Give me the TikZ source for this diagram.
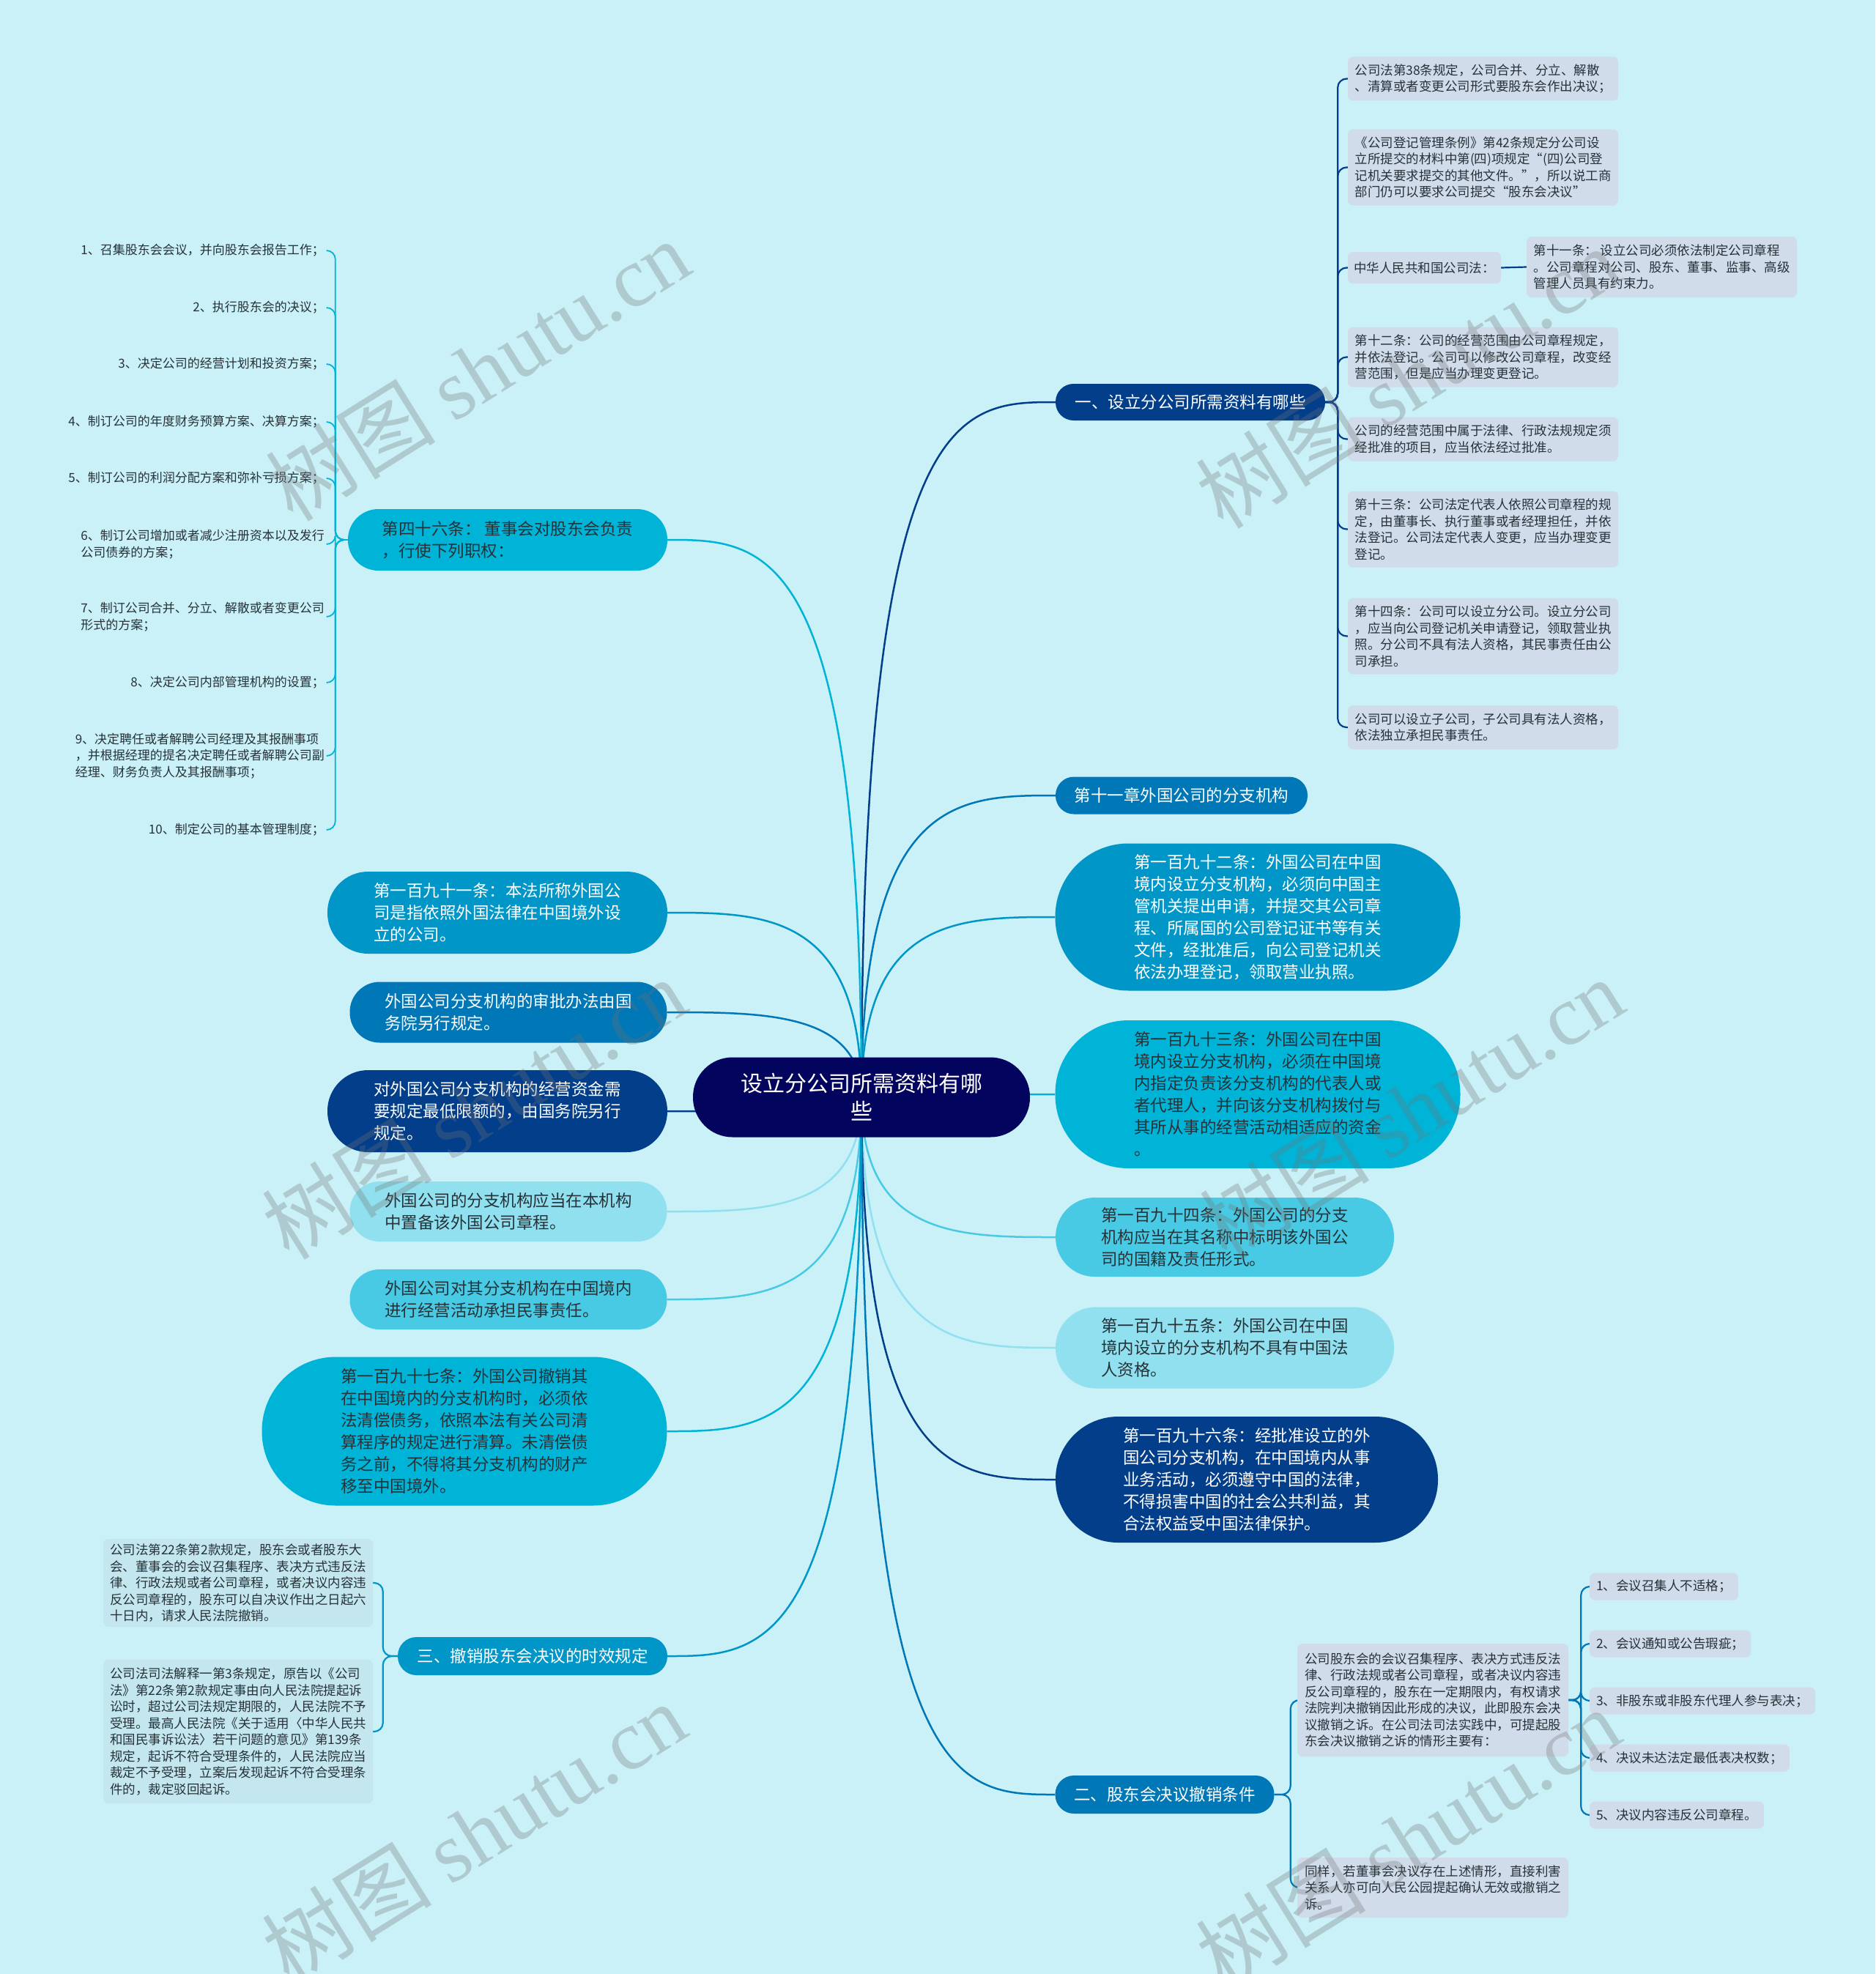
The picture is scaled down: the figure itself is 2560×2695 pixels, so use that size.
\documentclass[tikz,border=0pt]{standalone}
\usepackage{fontspec}
\setmainfont{Noto Sans CJK SC}
\newfontfamily\wmserif{Liberation Serif}
\usetikzlibrary{calc}
\pgfdeclarelayer{back}
\pgfsetlayers{back,main}
\definecolor{bg}{HTML}{CAF0F8}
\definecolor{cA}{HTML}{03045E}
\definecolor{cB}{HTML}{023E8A}
\definecolor{cC}{HTML}{0077B6}
\definecolor{cD}{HTML}{0096C7}
\definecolor{cE}{HTML}{00B4D8}
\definecolor{cF}{HTML}{48CAE4}
\definecolor{cG}{HTML}{90E0EF}
\definecolor{leafbg}{HTML}{D0DCEA}
\definecolor{leafbgb}{HTML}{C3E6EF}
\definecolor{darktxt}{HTML}{263238}
\tikzset{
  topic/.style={rectangle, inner sep=0pt, align=left, font=\fontsize{22.5}{30}\selectfont},
  leafbox/.style={rectangle, rounded corners=7pt, fill=leafbg, inner sep=0pt, align=left, text=darktxt, font=\fontsize{17.5}{22.5}\selectfont},
  leaftext/.style={inner sep=3pt, align=left, text=darktxt, font=\fontsize{17}{22.5}\selectfont},
  conn/.style={line width=2.5pt},
  hook/.style={line width=2.2pt, rounded corners=12pt},
  wm/.style={rotate=32, text=black!55, text opacity=0.3, font=\fontsize{116}{116}\selectfont},
}
\newcommand\mmcurve[3]{\draw[conn,#3] (#1) .. controls (#1 |- #2) and ($(#1 |- #2)!0.5!(#2)$) .. (#2);}
\begin{document}
\begin{tikzpicture}[x=1pt,y=-1pt]
\begin{pgfonlayer}{back}
\fill[bg] (0,0) rectangle (2560,2695);
\end{pgfonlayer}
\useasboundingbox (0,0) rectangle (2560,2695);

% center
\node[rectangle, fill=cA, text=white, minimum width=460pt, minimum height=109pt, rounded corners=54pt, inner sep=0pt, align=center, font=\fontsize{30}{38}\selectfont] (c) at (1176,1498) {设立分公司所需资料有哪\\些};

% right main topics
\node[topic, fill=cB, text=white, minimum width=368pt, minimum height=50pt, rounded corners=24.5pt] (n1) at (1625,549) {一、设立分公司所需资料有哪些};
\node[topic, fill=cC, text=white, minimum width=344pt, minimum height=51pt, rounded corners=25pt] (n2) at (1613,1086) {第十一章外国公司的分支机构};
\node[topic, fill=cD, text=white, minimum width=553pt, minimum height=201pt, rounded corners=100pt] (n3) at (1717,1252) {第一百九十二条：外国公司在中国\\境内设立分支机构，必须向中国主\\管机关提出申请，并提交其公司章\\程、所属国的公司登记证书等有关\\文件，经批准后，向公司登记机关\\依法办理登记，领取营业执照。};
\node[topic, fill=cE, text=darktxt, minimum width=553pt, minimum height=202pt, rounded corners=100pt] (n4) at (1717,1494) {第一百九十三条：外国公司在中国\\境内设立分支机构，必须在中国境\\内指定负责该分支机构的代表人或\\者代理人，并向该分支机构拨付与\\其所从事的经营活动相适应的资金\\。};
\node[topic, fill=cF, text=darktxt, minimum width=462pt, minimum height=108pt, rounded corners=53.5pt] (n5) at (1672,1689) {第一百九十四条：外国公司的分支\\机构应当在其名称中标明该外国公\\司的国籍及责任形式。};
\node[topic, fill=cG, text=darktxt, minimum width=462pt, minimum height=111pt, rounded corners=55pt] (n6) at (1672,1840) {第一百九十五条：外国公司在中国\\境内设立的分支机构不具有中国法\\人资格。};
\node[topic, fill=cB, text=white, minimum width=522pt, minimum height=172pt, rounded corners=85.5pt] (n7) at (1702,2020) {第一百九十六条：经批准设立的外\\国公司分支机构，在中国境内从事\\业务活动，必须遵守中国的法律，\\不得损害中国的社会公共利益，其\\合法权益受中国法律保护。};
\node[topic, fill=cC, text=white, minimum width=299pt, minimum height=52pt, rounded corners=25.5pt] (n8) at (1590,2450) {二、股东会决议撤销条件};

% left main topics
\node[topic, fill=cE, text=darktxt, minimum width=436pt, minimum height=84pt, rounded corners=41.5pt] (m1) at (693,737) {第四十六条： 董事会对股东会负责\\，行使下列职权：};
\node[topic, fill=cD, text=white, minimum width=464pt, minimum height=112pt, rounded corners=55.5pt] (m2) at (679,1246) {第一百九十一条：本法所称外国公\\司是指依照外国法律在中国境外设\\立的公司。};
\node[topic, fill=cC, text=white, minimum width=433pt, minimum height=83pt, rounded corners=41pt] (m3) at (694,1382) {外国公司分支机构的审批办法由国\\务院另行规定。};
\node[topic, fill=cB, text=white, minimum width=464pt, minimum height=112pt, rounded corners=55.5pt] (m4) at (679,1517) {对外国公司分支机构的经营资金需\\要规定最低限额的，由国务院另行\\规定。};
\node[topic, fill=cG, text=darktxt, minimum width=433pt, minimum height=82pt, rounded corners=40.5pt] (m5) at (694,1654) {外国公司的分支机构应当在本机构\\中置备该外国公司章程。};
\node[topic, fill=cF, text=darktxt, minimum width=433pt, minimum height=82pt, rounded corners=40.5pt] (m6) at (694,1774) {外国公司对其分支机构在中国境内\\进行经营活动承担民事责任。};
\node[topic, fill=cE, text=darktxt, minimum width=553pt, minimum height=203pt, rounded corners=101pt] (m7) at (634,1954) {第一百九十七条：外国公司撤销其\\在中国境内的分支机构时，必须依\\法清偿债务，依照本法有关公司清\\算程序的规定进行清算。未清偿债\\务之前，不得将其分支机构的财产\\移至中国境外。};
\node[topic, fill=cD, text=white, minimum width=368pt, minimum height=52pt, rounded corners=25.5pt] (m8) at (727,2261) {三、撤销股东会决议的时效规定};

% leaves of n1
\node[leafbox, minimum width=369pt, minimum height=60pt] (r1) at (2024.5,107.5) {公司法第38条规定，公司合并、分立、解散\\、清算或者变更公司形式要股东会作出决议；};
\node[leafbox, minimum width=369pt, minimum height=104pt] (r2) at (2024.5,228.5) {《公司登记管理条例》第42条规定分公司设\\立所提交的材料中第(四)项规定“(四)公司登\\记机关要求提交的其他文件。”，所以说工商\\部门仍可以要求公司提交“股东会决议”};
\node[leafbox, minimum width=209pt, minimum height=43pt] (r3) at (1944.5,365.5) {中华人民共和国公司法：};
\node[leafbox, minimum width=369pt, minimum height=83pt] (r3a) at (2268.5,364.5) {第十一条： 设立公司必须依法制定公司章程\\。公司章程对公司、股东、董事、监事、高级\\管理人员具有约束力。};
\node[leafbox, minimum width=369pt, minimum height=82pt] (r4) at (2024.5,487.5) {第十二条：公司的经营范围由公司章程规定，\\并依法登记。公司可以修改公司章程，改变经\\营范围，但是应当办理变更登记。};
\node[leafbox, minimum width=369pt, minimum height=60pt] (r5) at (2024.5,599.5) {公司的经营范围中属于法律、行政法规规定须\\经批准的项目，应当依法经过批准。};
\node[leafbox, minimum width=369pt, minimum height=104pt] (r6) at (2024.5,722.5) {第十三条：公司法定代表人依照公司章程的规\\定，由董事长、执行董事或者经理担任，并依\\法登记。公司法定代表人变更，应当办理变更\\登记。};
\node[leafbox, minimum width=369pt, minimum height=104pt] (r7) at (2024.5,868.5) {第十四条：公司可以设立分公司。设立分公司\\，应当向公司登记机关申请登记，领取营业执\\照。分公司不具有法人资格，其民事责任由公\\司承担。};
\node[leafbox, minimum width=369pt, minimum height=60pt] (r8) at (2024.5,993) {公司可以设立子公司，子公司具有法人资格，\\依法独立承担民事责任。};

% leaves of m1
\node[leaftext, anchor=east] (l1) at (446,342) {1、召集股东会会议，并向股东会报告工作；};
\node[leaftext, anchor=east] (l2) at (446,420) {2、执行股东会的决议；};
\node[leaftext, anchor=east] (l3) at (446,497) {3、决定公司的经营计划和投资方案；};
\node[leaftext, anchor=east] (l4) at (446,576) {4、制订公司的年度财务预算方案、决算方案；};
\node[leaftext, anchor=east] (l5) at (446,653) {5、制订公司的利润分配方案和弥补亏损方案；};
\node[leaftext, anchor=east] (l6) at (446,743) {6、制订公司增加或者减少注册资本以及发行\\公司债券的方案；};
\node[leaftext, anchor=east] (l7) at (446,842) {7、制订公司合并、分立、解散或者变更公司\\形式的方案；};
\node[leaftext, anchor=east] (l8) at (446,932) {8、决定公司内部管理机构的设置；};
\node[leaftext, anchor=east] (l9) at (446,1032) {9、决定聘任或者解聘公司经理及其报酬事项\\，并根据经理的提名决定聘任或者解聘公司副\\经理、财务负责人及其报酬事项；};
\node[leaftext, anchor=east] (l10) at (446,1133) {10、制定公司的基本管理制度；};

% leaves of m8
\node[leafbox, fill=leafbgb, minimum width=368pt, minimum height=120pt] (j1) at (325,2161) {公司法第22条第2款规定，股东会或者股东大\\会、董事会的会议召集程序、表决方式违反法\\律、行政法规或者公司章程，或者决议内容违\\反公司章程的，股东可以自决议作出之日起六\\十日内，请求人民法院撤销。};
\node[leafbox, fill=leafbgb, minimum width=368pt, minimum height=196pt] (j2) at (325,2364) {公司法司法解释一第3条规定，原告以《公司\\法》第22条第2款规定事由向人民法院提起诉\\讼时，超过公司法规定期限的，人民法院不予\\受理。最高人民法院《关于适用〈中华人民共\\和国民事诉讼法〉若干问题的意见》第139条\\规定，起诉不符合受理条件的，人民法院应当\\裁定不予受理，立案后发现起诉不符合受理条\\件的，裁定驳回起诉。};

% leaves of n8
\node[leafbox, minimum width=370pt, minimum height=154pt] (k0) at (1956,2321) {公司股东会的会议召集程序、表决方式违反法\\律、行政法规或者公司章程，或者决议内容违\\反公司章程的，股东在一定期限内，有权请求\\法院判决撤销因此形成的决议，此即股东会决\\议撤销之诉。在公司法司法实践中，可提起股\\东会决议撤销之诉的情形主要有：};
\node[leafbox, minimum width=370pt, minimum height=82pt] (k6) at (1956,2577) {同样，若董事会决议存在上述情形，直接利害\\关系人亦可向人民公园提起确认无效或撤销之\\诉。};
\node[leafbox, anchor=west, inner xsep=9pt, minimum height=37pt] (k1) at (2170,2166) {1、会议召集人不适格；};
\node[leafbox, anchor=west, inner xsep=9pt, minimum height=37pt] (k2) at (2170,2244) {2、会议通知或公告瑕疵；};
\node[leafbox, anchor=west, inner xsep=9pt, minimum height=37pt] (k3) at (2170,2322) {3、非股东或非股东代理人参与表决；};
\node[leafbox, anchor=west, inner xsep=9pt, minimum height=37pt] (k4) at (2170,2400) {4、决议未达法定最低表决权数；};
\node[leafbox, anchor=west, inner xsep=9pt, minimum height=37pt] (k5) at (2170,2478) {5、决议内容违反公司章程。};

\begin{pgfonlayer}{back}
% center connectors
\mmcurve{c.center}{n1.west}{cB}
\mmcurve{c.center}{n2.west}{cC}
\mmcurve{c.center}{n3.west}{cD}
\mmcurve{c.center}{n4.west}{cE}
\mmcurve{c.center}{n5.west}{cF}
\mmcurve{c.center}{n6.west}{cG}
\mmcurve{c.center}{n7.west}{cB}
\mmcurve{c.center}{n8.west}{cC}
\mmcurve{c.center}{m1.east}{cE}
\mmcurve{c.center}{m2.east}{cD}
\mmcurve{c.center}{m3.east}{cC}
\mmcurve{c.center}{m4.east}{cB}
\mmcurve{c.center}{m5.east}{cG}
\mmcurve{c.center}{m6.east}{cF}
\mmcurve{c.center}{m7.east}{cE}
\mmcurve{c.center}{m8.east}{cD}
% n1 leaves
\foreach \t in {r1,r2,r3,r4,r5,r6,r7,r8}
  \draw[hook,cB] (n1.east) -- ++(17,0) |- (\t.west);
\draw[hook,cB] (r3.east) -- (r3a.west);
% m1 leaves
\foreach \t in {l1,l2,l3,l4,l5,l6,l7,l8,l9,l10}
  \draw[hook,cE,line width=1.8pt] (m1.west) -- ++(-17,0) |- (\t.east);
% m8 leaves
\foreach \t in {j1,j2}
  \draw[hook,cD] (m8.west) -- ++(-20,0) |- (\t.east);
% n8 leaves
\foreach \t in {k0,k6}
  \draw[hook,cC] (n8.east) -- ++(22,0) |- (\t.west);
\foreach \t in {k1,k2,k3,k4,k5}
  \draw[hook,cC] (k0.east) -- ++(17,0) |- (\t.west);
\end{pgfonlayer}

% watermarks
\node[wm] (w1) at (652,505) {树图 {\wmserif shutu.cn}};
\node[wm] (w2) at (1922,515) {树图 {\wmserif shutu.cn}};
\node[wm] (w3) at (647,1513) {树图 {\wmserif shutu.cn}};
\node[wm] (w4) at (1927,1513) {树图 {\wmserif shutu.cn}};
\node[wm] (w5) at (647,2502) {树图 {\wmserif shutu.cn}};
\node[wm] (w6) at (1922,2510) {树图 {\wmserif shutu.cn}};
\end{tikzpicture}
\end{document}
